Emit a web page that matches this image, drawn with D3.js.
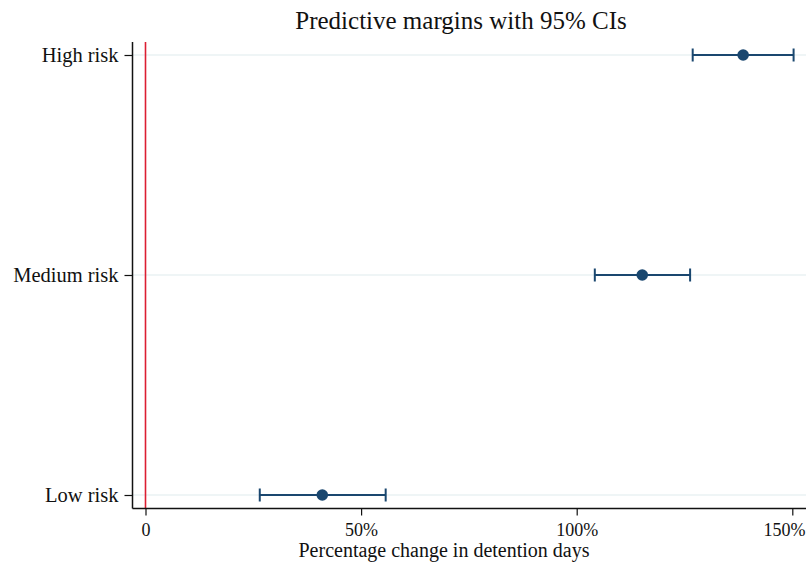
<!DOCTYPE html>
<html><head><meta charset="utf-8">
<script src="https://cdn.jsdelivr.net/npm/d3@7"></script>
<style>body{margin:0;background:#fff}svg{display:block}text{font-family:"Liberation Serif","DejaVu Serif",serif;fill:#111}</style>
</head><body>
<svg id="c" width="806" height="565"></svg>
<script>
const categories = ["Low risk", "Medium risk", "High risk"];
const margins = [41.0, 115.2, 138.6];
const ciLow = [26.5, 104.2, 126.9];
const ciHigh = [55.7, 126.3, 150.3];
const xTicks = [0, 50, 100, 150];
const xTickLabels = ["0", "50%", "100%", "150%"];

(function(){
const svg = d3.select("#c");
const x = d3.scaleLinear().domain([0, 150]).range([145.5, 792.3]);
const y = d3.scaleLinear().domain([0, 2]).range([495, 55]);
const pLeft = 132.5, pRight = 806, pTop = 42, pBottom = 508.5;
const navy = "#1a476f";

// gridlines
svg.append("g").selectAll("line").data(categories).join("line")
  .attr("x1", pLeft).attr("x2", pRight)
  .attr("y1", (d,i)=>y(i)).attr("y2", (d,i)=>y(i))
  .attr("stroke", "#eaf2f3").attr("stroke-width", 1.5);

// reference line at 0
svg.append("line").attr("x1", x(0)).attr("x2", x(0)).attr("y1", pTop).attr("y2", pBottom)
  .attr("stroke", "#dc1e32").attr("stroke-width", 1.6);

// x axis
const xAxis = d3.axisBottom(x).tickValues(xTicks).tickFormat((d,i)=>xTickLabels[i]).tickSize(7).tickSizeOuter(0);
const gx = svg.append("g").attr("transform", `translate(0,${pBottom})`).call(xAxis);
gx.attr("font-size", null).attr("font-family", null);
gx.select(".domain").remove();
gx.append("line").attr("x1", pLeft).attr("x2", pRight).attr("stroke", "#111").attr("stroke-width", 1.5);
gx.selectAll(".tick line").attr("stroke", "#111").attr("stroke-width", 1.2);
gx.selectAll(".tick text").style("font-size", "18px").attr("dy", "0.95em").attr("fill", "#111");
gx.selectAll(".tick text").filter((d,i)=>i===xTicks.length-1)
  .attr("text-anchor", "end").attr("x", 805 - x(xTicks[xTicks.length-1]));

// y axis
const yAxis = d3.axisLeft(y).tickValues([0,1,2]).tickFormat(i=>categories[i]).tickSize(8).tickSizeOuter(0);
const gy = svg.append("g").attr("transform", `translate(${pLeft},0)`).call(yAxis);
gy.attr("font-size", null).attr("font-family", null);
gy.select(".domain").remove();
gy.append("line").attr("y1", pTop).attr("y2", pBottom).attr("stroke", "#111").attr("stroke-width", 1.5);
gy.selectAll(".tick line").attr("stroke", "#111").attr("stroke-width", 1.2);
gy.selectAll(".tick text").style("font-size", "20.5px").attr("x", -14).attr("fill", "#111");

// error bars
const idx = d3.range(categories.length);
const eb = svg.append("g");
eb.selectAll("line.h").data(idx).join("line").attr("class","h")
  .attr("x1", i=>x(ciLow[i])).attr("x2", i=>x(ciHigh[i]))
  .attr("y1", i=>y(i)).attr("y2", i=>y(i)).attr("stroke", navy).attr("stroke-width", 2);
eb.selectAll("line.cl").data(idx).join("line").attr("class","cl")
  .attr("x1", i=>x(ciLow[i])).attr("x2", i=>x(ciLow[i]))
  .attr("y1", i=>y(i)-6.5).attr("y2", i=>y(i)+6.5).attr("stroke", navy).attr("stroke-width", 2);
eb.selectAll("line.ch").data(idx).join("line").attr("class","ch")
  .attr("x1", i=>x(ciHigh[i])).attr("x2", i=>x(ciHigh[i]))
  .attr("y1", i=>y(i)-6.5).attr("y2", i=>y(i)+6.5).attr("stroke", navy).attr("stroke-width", 2);
eb.selectAll("circle").data(idx).join("circle")
  .attr("cx", i=>x(margins[i])).attr("cy", i=>y(i)).attr("r", 5.8).attr("fill", navy);

// title
svg.append("text").attr("x", 461).attr("y", 29).attr("text-anchor", "middle")
  .style("font-size", "25px").text("Predictive margins with 95% CIs");
// x axis title
svg.append("text").attr("x", 444).attr("y", 557).attr("text-anchor", "middle")
  .style("font-size", "20px").text("Percentage change in detention days");
})();
</script>
</body></html>
